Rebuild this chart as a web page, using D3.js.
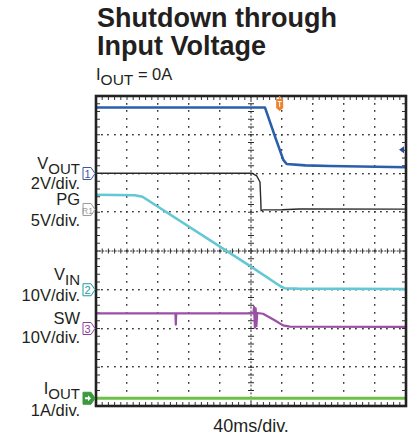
<!DOCTYPE html>
<html>
<head>
<meta charset="utf-8">
<script src="https://cdn.jsdelivr.net/npm/d3@7"></script>
<style>
html, body { margin: 0; padding: 0; background: #fff; }
svg { display: block; font-family: "Liberation Sans", Arial, Helvetica, sans-serif; }
</style>
</head>
<body>
<svg id="chart" width="414" height="439"></svg>
<script>
'use strict';

// time base: 40ms/div, 10 divisions
var timeDomain = [0, 400];

// channel setup: units per div and ground position (div from screen centre)
var channelNames  = ["VOUT", "PG", "VIN", "SW", "IOUT"];
var channelScale  = [2, 5, 10, 10, 1];
var channelOffset = [2.0, 1.07, -1.0, -2.0, -3.8];
var channelTags   = ["1", "R1", "2", "3", "4"];

// traces, [ms, value]
var vout = [[0, 3.41], [218, 3.41], [231, 1.90], [241.7, 0.70], [246, 0.49], [270, 0.42], [302, 0.39], [400, 0.32]];
var pg   = [[0, 4.68], [201, 4.70], [207.4, 4.33], [211.6, 3.55], [212.6, 1.2], [213, -0.15], [216, -0.05], [240, -0.02], [262, 0.07], [400, 0.05]];
var vin  = [[0, 24.5], [50, 24.4], [60, 24.0], [200, 5.95], [238, 0.9], [243, 0.4], [260, 0.3], [400, 0.2]];
var sw   = [[0, 3.9], [102.5, 3.9], [103, 1.0], [103.5, 3.9], [203, 3.9], [204, 5.6], [205, 0.2], [206, 5.2], [207, 0.6], [208, 4.0], [215.5, 3.8], [230, 2.2], [241.3, 0.8], [250, 0.5], [400, 0.4]];
var iout = [[0, 0], [400, 0]];

// trigger position (ms) and level on ch1 (V)
var triggerTime  = 237;
var triggerLevel = 1.22;

var traceColors  = ["#2c5fab", "#2a2a2a", "#63c7d4", "#9b4fa6", "#6cc047"];
var traceWidths  = [2.6, 1.4, 2.6, 2.2, 3];
var markerColors = ["#3d56a0", "#9a9a9a", "#1f9c9c", "#8e3f9a", "#3b9a3e"];

var plotLeft = 96, plotTop = 96, plotSize = 310;

var svg = d3.select("#chart");

var x    = d3.scaleLinear().domain(timeDomain).range([plotLeft, plotLeft + plotSize]);
var xDiv = d3.scaleLinear().domain([0, 10]).range([plotLeft, plotLeft + plotSize]);
var yDiv = d3.scaleLinear().domain([-4, 4]).range([plotTop + plotSize, plotTop]);

// grid dots
var grid = svg.append("g").attr("fill", "#3a3a3a");
var vDots = [], hDots = [];
d3.range(1, 10).forEach(function(i) {
    if (i === 5) return;
    d3.range(1, 40).forEach(function(k) { vDots.push([i, -4 + k * 0.2]); });
});
d3.range(-3, 4).forEach(function(j) {
    if (j === 0) return;
    d3.range(1, 50).forEach(function(k) { hDots.push([k * 0.2, j]); });
});
grid.selectAll("rect.v").data(vDots).enter().append("rect").attr("class", "v")
    .attr("x", function(d) { return Math.round(xDiv(d[0])) - 1; })
    .attr("y", function(d) { return Math.round(yDiv(d[1])) - 1; })
    .attr("width", 1.4).attr("height", 1.8);
grid.selectAll("rect.h").data(hDots).enter().append("rect").attr("class", "h")
    .attr("x", function(d) { return Math.round(xDiv(d[0])) - 1; })
    .attr("y", function(d) { return Math.round(yDiv(d[1])) - 1; })
    .attr("width", 1.8).attr("height", 1.4);

// centre cross with minor ticks
var cross = svg.append("g").attr("stroke", "#2a2a2a").attr("stroke-width", 1);
cross.append("line")
    .attr("x1", plotLeft).attr("x2", plotLeft + plotSize).attr("y1", yDiv(0)).attr("y2", yDiv(0))
    .attr("stroke-dasharray", "2,1.1");
cross.append("line")
    .attr("x1", xDiv(5)).attr("x2", xDiv(5)).attr("y1", plotTop).attr("y2", plotTop + plotSize)
    .attr("stroke-dasharray", "2,1.9");
cross.selectAll("line.hx").data(d3.range(1, 50)).enter().append("line")
    .attr("x1", function(k) { return xDiv(k * 0.2); })
    .attr("x2", function(k) { return xDiv(k * 0.2); })
    .attr("y1", yDiv(0) - 2.5).attr("y2", yDiv(0) + 2.5);
cross.selectAll("line.vy").data(d3.range(1, 40)).enter().append("line")
    .attr("y1", function(k) { return yDiv(-4 + k * 0.2); })
    .attr("y2", function(k) { return yDiv(-4 + k * 0.2); })
    .attr("x1", xDiv(5) - 3).attr("x2", xDiv(5) + 3);

// frame ticks
var edge = svg.append("g").attr("stroke", "#333").attr("stroke-width", 1);
d3.range(1, 50).forEach(function(k) {
    var px = xDiv(k * 0.2);
    edge.append("line").attr("x1", px).attr("x2", px).attr("y1", plotTop).attr("y2", plotTop + 4);
    edge.append("line").attr("x1", px).attr("x2", px).attr("y1", plotTop + plotSize - 4).attr("y2", plotTop + plotSize);
});
d3.range(1, 40).forEach(function(k) {
    var py = yDiv(-4 + k * 0.2);
    edge.append("line").attr("y1", py).attr("y2", py).attr("x1", plotLeft).attr("x2", plotLeft + 4);
    edge.append("line").attr("y1", py).attr("y2", py).attr("x1", plotLeft + plotSize - 4).attr("x2", plotLeft + plotSize);
});

// traces
var traces = [vout, pg, vin, sw, iout];
var drawOrder = [4, 3, 2, 1, 0];
drawOrder.forEach(function(c) {
    var line = d3.line()
        .x(function(d) { return x(d[0]); })
        .y(function(d) { return yDiv(d[1] / channelScale[c] + channelOffset[c]); });
    svg.append("path")
        .datum(traces[c])
        .attr("fill", "none")
        .attr("stroke", traceColors[c])
        .attr("stroke-width", traceWidths[c])
        .attr("stroke-linejoin", "round")
        .attr("d", line);
});

// frame
svg.append("rect")
    .attr("x", plotLeft).attr("y", plotTop).attr("width", plotSize).attr("height", plotSize)
    .attr("fill", "none").attr("stroke", "#222").attr("stroke-width", 2.6);

// channel ground markers
channelTags.forEach(function(tag, c) {
    var cy = yDiv(channelOffset[c]);
    var filled = (c === 4);
    var g = svg.append("g");
    g.append("path")
        .attr("d", "M83," + (cy - 6) + "H91L95," + cy + "L91," + (cy + 6) + "H83Z")
        .attr("fill", filled ? markerColors[c] : "#fff")
        .attr("stroke", markerColors[c]).attr("stroke-width", 1);
    if (filled) {
        g.append("path")
            .attr("d", "M85," + (cy - 1) + "H88V" + (cy - 3) + "L91," + cy + "L88," + (cy + 3) + "V" + (cy + 1) + "H85Z")
            .attr("fill", "#fff");
    } else {
        g.append("text")
            .attr("x", 87.5).attr("y", cy + 4)
            .attr("text-anchor", "middle")
            .attr("font-size", tag.length > 1 ? 8.5 : 11)
            .attr("fill", markerColors[c])
            .text(tag);
    }
});

// trigger level arrow (right edge)
var ty = yDiv(triggerLevel / channelScale[0] + channelOffset[0]);
svg.append("path")
    .attr("d", "M399," + ty + "L404," + (ty - 3.5) + "V" + (ty + 3.5) + "Z")
    .attr("fill", "#2c4a9a");

// trigger time marker (top edge)
var tx = x(triggerTime);
svg.append("path")
    .attr("d", "M" + (tx - 3.5) + ",99H" + (tx + 3.5) + "V108L" + tx + ",111L" + (tx - 3.5) + ",108Z")
    .attr("fill", "#f0802a");
svg.append("line").attr("x1", tx).attr("x2", tx).attr("y1", 96).attr("y2", 99)
    .attr("stroke", "#f0802a").attr("stroke-width", 1.2);
svg.append("path")
    .attr("d", "M" + (tx - 2) + ",101.5H" + (tx + 2) + "M" + tx + ",101.5V107")
    .attr("stroke", "#fff").attr("stroke-width", 1);

// title
var title = svg.append("g").attr("fill", "#231f20");
title.append("text").attr("x", 97).attr("y", 27)
    .attr("font-size", 27).attr("font-weight", "bold").text("Shutdown through");
title.append("text").attr("x", 97).attr("y", 55)
    .attr("font-size", 27).attr("font-weight", "bold").text("Input Voltage");
var cond = title.append("text").attr("x", 96).attr("y", 80).attr("font-size", 16.5);
cond.append("tspan").text("I");
cond.append("tspan").attr("dy", 5).attr("font-size", 15.5).text("OUT");
cond.append("tspan").attr("dy", -5).text(" = 0A");

// left labels
var labels = svg.append("g").attr("fill", "#231f20").attr("font-size", 16.5).attr("text-anchor", "end");
function subLabel(main, sub, yy) {
    var t = labels.append("text").attr("x", 80).attr("y", yy);
    t.append("tspan").text(main);
    t.append("tspan").attr("dy", 5).attr("font-size", 15).text(sub);
}
subLabel("V", "OUT", 169);
labels.append("text").attr("x", 80).attr("y", 189).text("2V/div.");
labels.append("text").attr("x", 80).attr("y", 205).text("PG");
labels.append("text").attr("x", 80).attr("y", 226).text("5V/div.");
subLabel("V", "IN", 280);
labels.append("text").attr("x", 80).attr("y", 301).text("10V/div.");
labels.append("text").attr("x", 80).attr("y", 324).text("SW");
labels.append("text").attr("x", 80).attr("y", 343).text("10V/div.");
subLabel("I", "OUT", 394);
labels.append("text").attr("x", 80).attr("y", 416).text("1A/div.");

// time base label
svg.append("text").attr("x", xDiv(5)).attr("y", 432)
    .attr("text-anchor", "middle").attr("font-size", 18).attr("fill", "#231f20")
    .text("40ms/div.");
</script>
</body>
</html>
